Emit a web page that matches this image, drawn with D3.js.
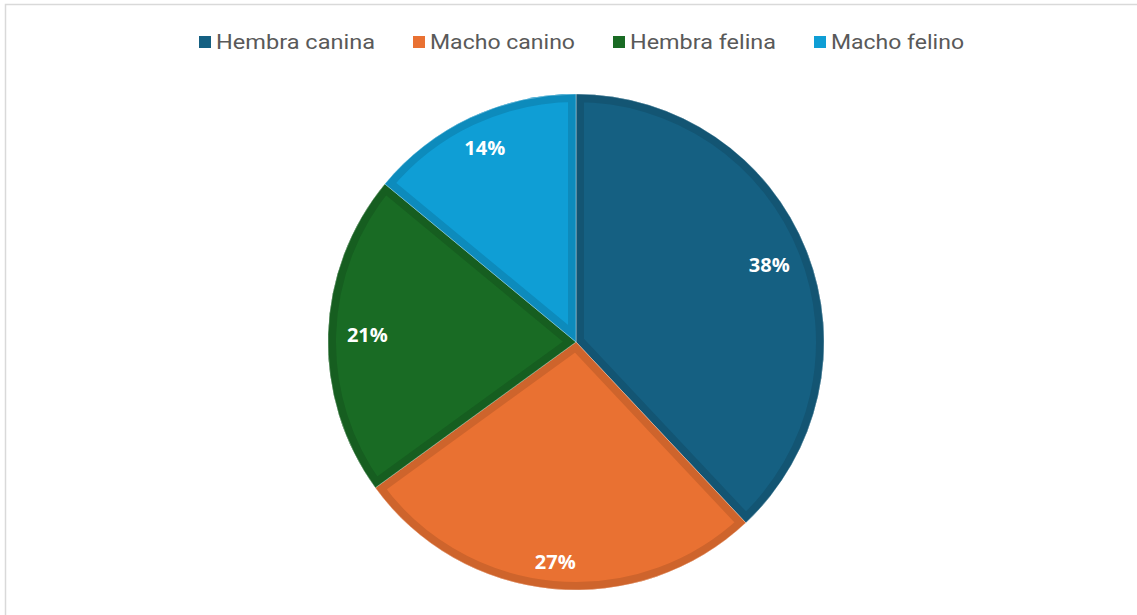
<!DOCTYPE html>
<html>
<head>
<meta charset="utf-8">
<script src="https://cdn.jsdelivr.net/npm/d3@7"></script>
<style>
  body { margin: 0; background: #fff; }
  svg { display: block; }
</style>
</head>
<body>
<div id="chart"></div>
<script>
// chart data
let categories = ['Hembra canina', 'Macho canino', 'Hembra felina', 'Macho felino']
let values = [38, 27, 21, 14]
let palette = ['#156082', '#e97132', '#196b24', '#0f9ed5']

let width = 1137, height = 615

let svg = d3.select('#chart').append('svg')
    .attr('width', width)
    .attr('height', height)

// chart area frame (top + left edges visible)
svg.append('rect')
    .attr('x', 5.5)
    .attr('y', 4.5)
    .attr('width', width)
    .attr('height', height)
    .attr('fill', '#fff')
    .attr('stroke', '#d9d9d9')
    .attr('stroke-width', 1.5)

let color = d3.scaleOrdinal().domain(categories).range(palette)

let cx = 576, cy = 342, radius = 248

let pie = d3.pie()
    .sort(null)
    .value(function(d){ return d.value })

let arcs = pie(categories.map(function(c, i){ return {name: c, value: values[i]} }))

let arc = d3.arc().innerRadius(0).outerRadius(radius)

let defs = svg.append('defs')

arcs.forEach(function(d, i){
    defs.append('clipPath')
        .attr('id', 'clip' + i)
        .append('path')
        .attr('d', arc(d))
})

let g = svg.append('g')
    .attr('transform', 'translate(' + cx + ',' + cy + ')')

let slice = g.selectAll('.slice')
    .data(arcs)
    .enter()
    .append('g')
    .attr('class', 'slice')

slice.append('path')
    .attr('d', arc)
    .attr('fill', function(d){ return color(d.data.name) })

// darker inner bevel band
slice.append('path')
    .attr('d', arc)
    .attr('clip-path', function(d, i){ return 'url(#clip' + i + ')' })
    .attr('fill', 'none')
    .attr('stroke', function(d){ return d3.color(color(d.data.name)).darker(0.35) })
    .attr('stroke-width', 16)
    .attr('stroke-linejoin', 'miter')

// thin light separation line
slice.append('path')
    .attr('d', arc)
    .attr('fill', 'none')
    .attr('stroke', '#ffffff')
    .attr('stroke-opacity', 0.35)
    .attr('stroke-width', 1)

// labels: pushed out so the text box sits just inside the rim
let labelEdge = radius * 0.925

g.selectAll('.label')
    .data(arcs)
    .enter()
    .append('text')
    .attr('text-anchor', 'middle')
    .attr('dy', '0.35em')
    .attr('font-family', '"Open Sans", Roboto, sans-serif')
    .attr('font-weight', 'bold')
    .attr('font-size', 20)
    .attr('fill', '#fff')
    .text(function(d){ return d.data.value + '%' })
    .attr('transform', function(d){

        let box = this.getBBox()

        let a = (d.startAngle + d.endAngle) / 2

        let s = Math.sin(a), c = Math.cos(a)

        let r = labelEdge - (box.width / 2 * Math.abs(s) + 7 * Math.abs(c))

        return 'translate(' + (r * s) + ',' + (-r * c) + ')'
    })

// legend
let legendX = [199, 413, 613, 814]
let legendW = [159, 145, 146, 133]

let legend = svg.append('g')
    .selectAll('.legend')
    .data(categories)
    .enter()
    .append('g')
    .attr('transform', function(d, i){ return 'translate(' + legendX[i] + ',42)' })

legend.append('rect')
    .attr('x', 0)
    .attr('y', -6)
    .attr('width', 12)
    .attr('height', 12)
    .attr('fill', function(d){ return color(d) })

legend.append('text')
    .attr('x', 17)
    .attr('dy', '0.35em')
    .attr('font-family', 'Roboto, "Open Sans", sans-serif')
    .attr('font-size', 21)
    .attr('fill', '#595959')
    .attr('textLength', function(d, i){ return legendW[i] })
    .attr('lengthAdjust', 'spacingAndGlyphs')
    .text(function(d){ return d })
</script>
</body>
</html>
